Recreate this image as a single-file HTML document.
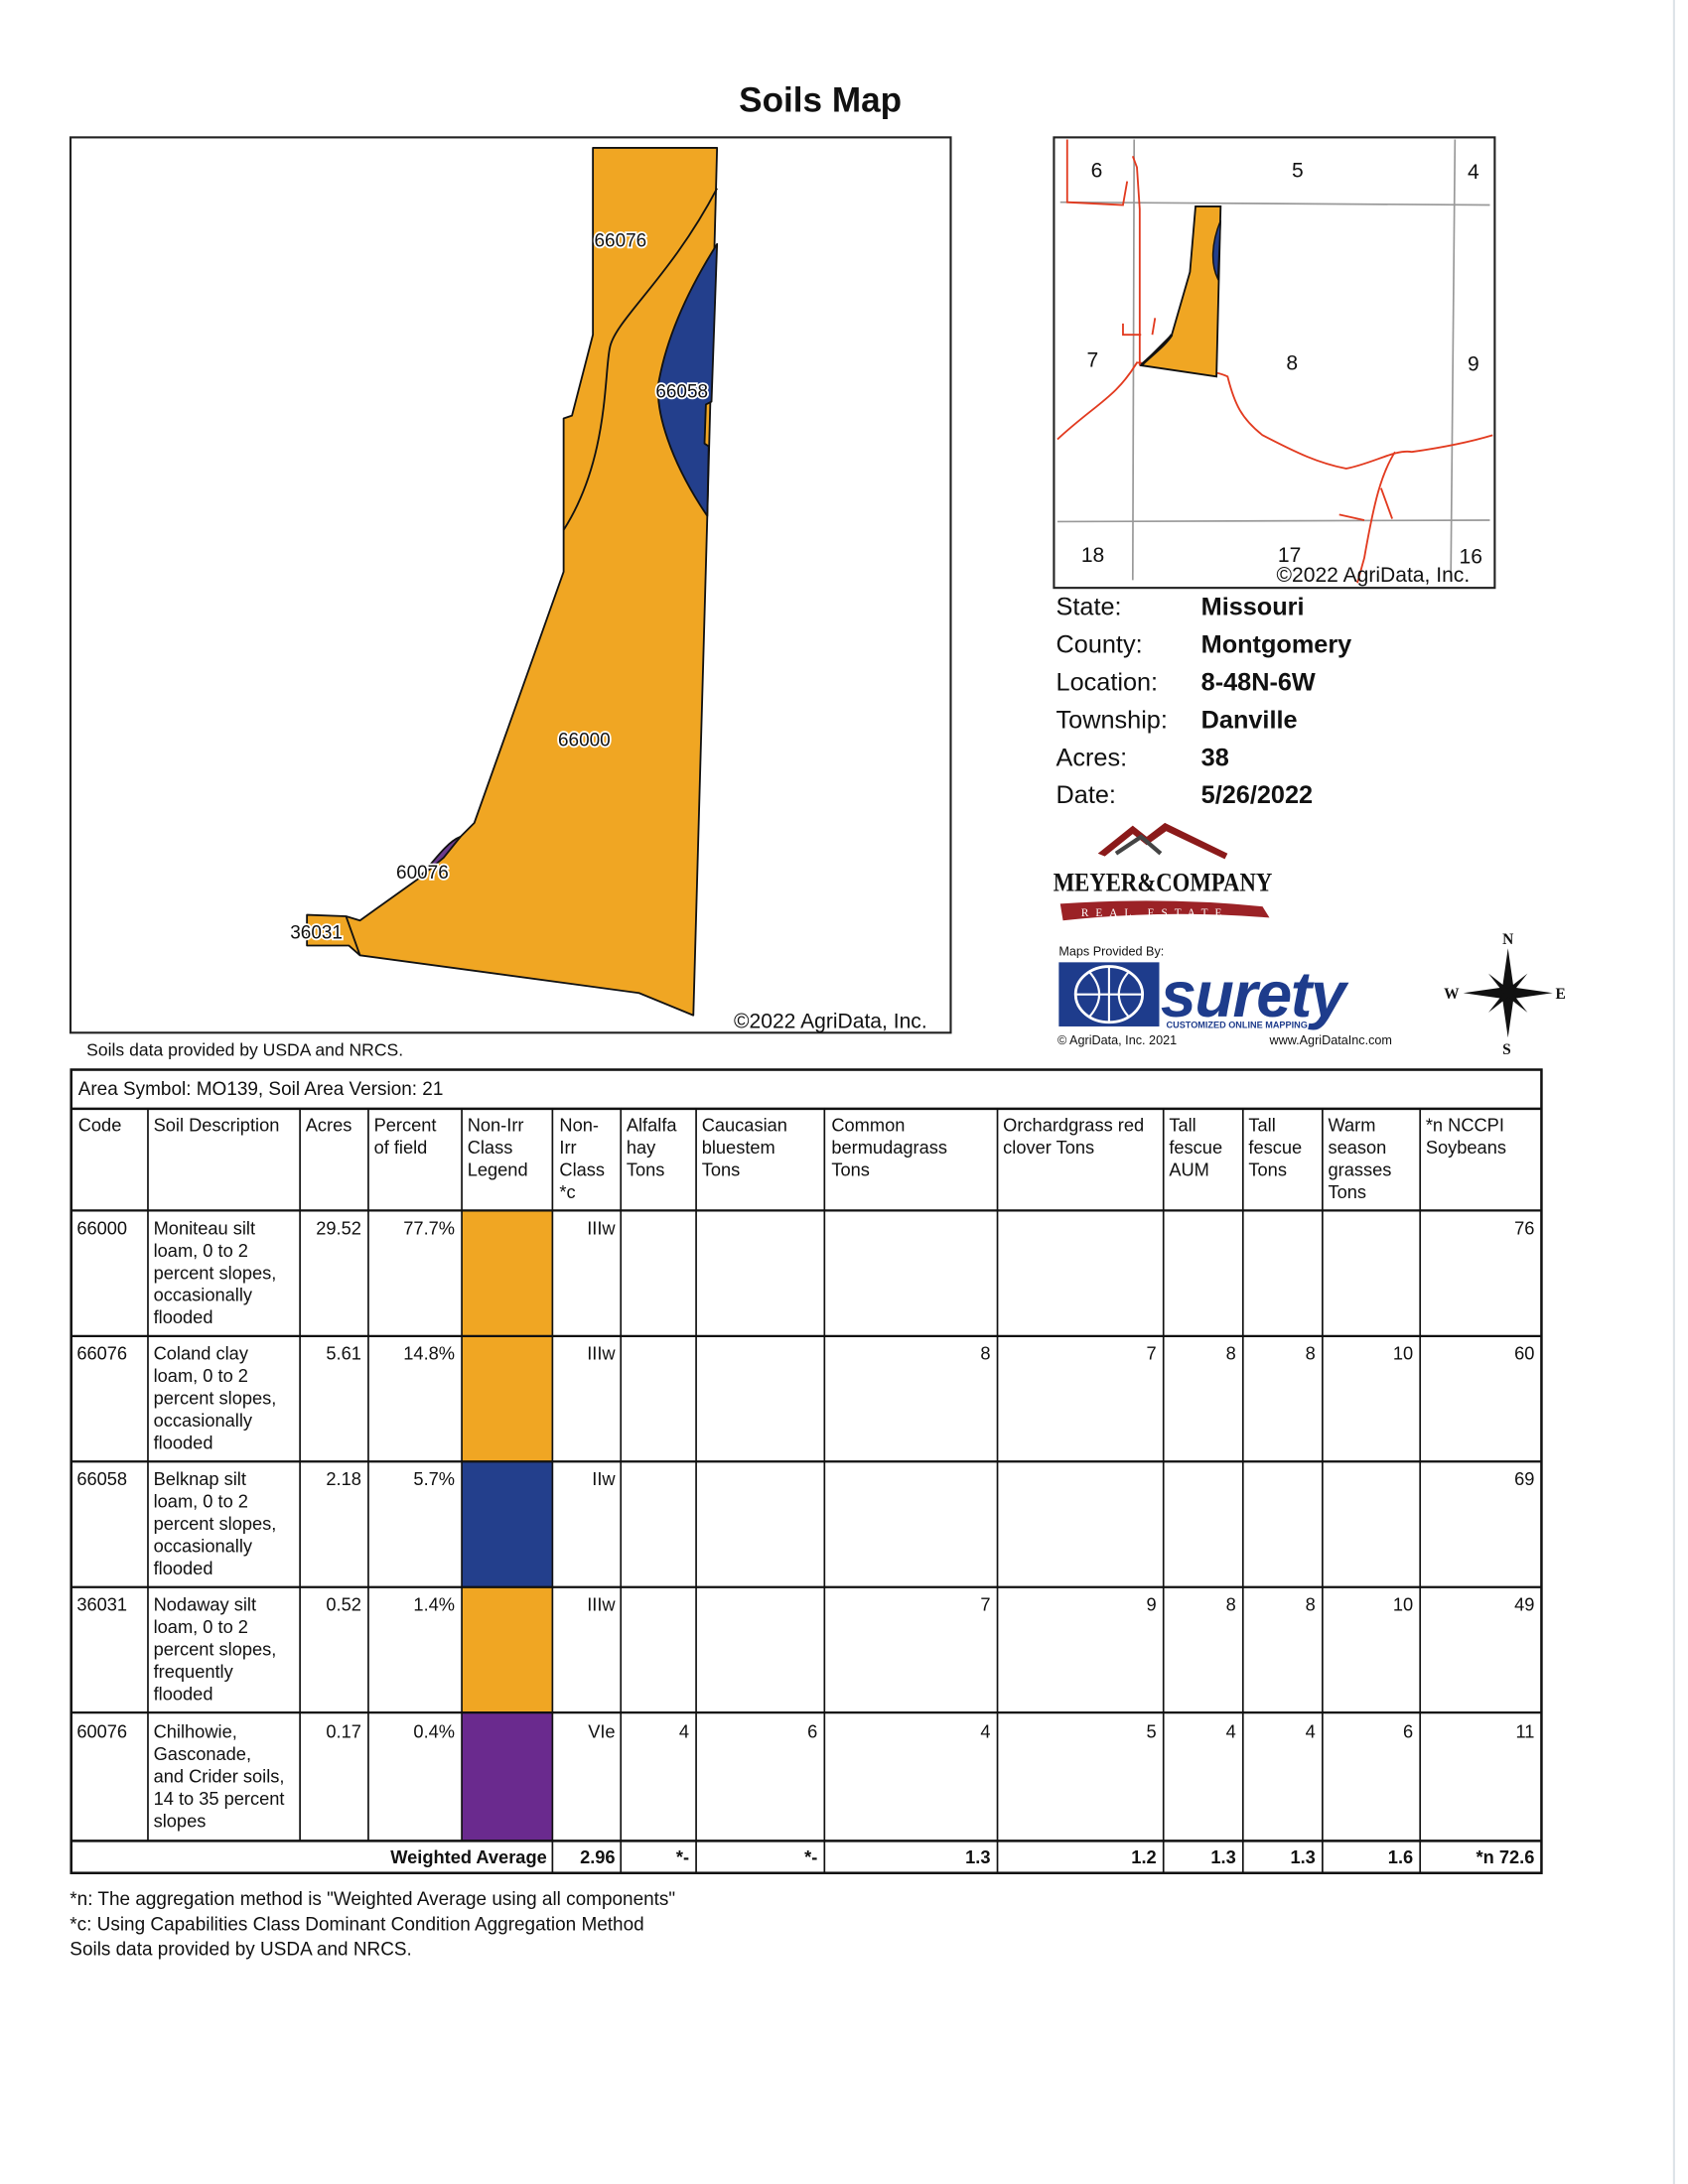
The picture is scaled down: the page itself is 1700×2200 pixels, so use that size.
<!DOCTYPE html>
<html><head><meta charset="utf-8"><style>
html,body{margin:0;padding:0;background:#fff;}
svg{display:block;}
text{font-family:"Liberation Sans",sans-serif;fill:#111;}
</style></head><body>
<svg width="1700" height="2200" viewBox="0 0 1210 1566" xmlns="http://www.w3.org/2000/svg">
<rect width="1210" height="1566" fill="#fff"/>
<line x1="1200" y1="0" x2="1200" y2="1566" stroke="#dde3e8" stroke-width="1.5"/>
<text x="588" y="80" font-size="25" font-weight="bold" text-anchor="middle">Soils Map</text>

<rect x="50.5" y="98.5" width="631" height="642" fill="#fff" stroke="#222" stroke-width="1.5"/>
<g stroke="#111" stroke-width="1.3" stroke-linejoin="round">
<path d="M425,106 L514,106 L507,370 L497,728 L458,712 L258,685 L250,678 L220,678 L220,656 L248,657 L258,660 L300,630 L340,590 L404,410 L404,300 L410,298 L425,240 Z" fill="#F0A623"/>
<path d="M514,175 C495,205 478,240 472,275 C470,295 480,330 507,370 L508,320 L505,318 L506,290 L510,288 Z" fill="#233F8C"/>
<path d="M514,135 C480,200 440,230 437,250 C433,270 436,330 404,380" fill="none"/>
<path d="M300,630 C315,612 322,603 330,600 L318,615 Z" fill="#6B3A8C"/>
<path d="M248,657 L258,685" fill="none"/>
</g>
<g font-size="13.5" stroke="#fff" stroke-width="2.5" paint-order="stroke">
<text x="426" y="177">66076</text>
<text x="470" y="285">66058</text>
<text x="400" y="535">66000</text>
<text x="284" y="630">60076</text>
<text x="208" y="673">36031</text>
</g>
<text x="526" y="737" font-size="15">©2022 AgriData, Inc.</text>
<text x="62" y="757" font-size="12.5">Soils data provided by USDA and NRCS.</text>

<rect x="755.5" y="98.5" width="316" height="323" fill="#fff" stroke="#222" stroke-width="1.5"/>
<g stroke="#999" stroke-width="1.2" fill="none">
<path d="M760,145 L1068,147"/><path d="M758,374 L1068,373"/>
<path d="M813,100 L812,416"/><path d="M1043,100 L1040,416"/>
</g>
<g stroke="#E23A1F" stroke-width="1.3" fill="none">
<path d="M765,100 L765,145 L805,147 L808,130"/>
<path d="M812,112 L815,120 L817,150 L817,262"/>
<path d="M758,315 C785,290 800,285 815,260 C840,262 870,265 880,270 C885,290 890,300 905,312 C930,325 945,332 965,336 C985,332 1000,322 1012,324 C1040,320 1060,315 1070,312"/>
<path d="M1000,324 C990,340 985,360 978,400 L973,418"/>
<path d="M990,350 L998,372 M960,369 L978,373"/>
<path d="M805,232 L805,240 L818,240 M826,240 L828,228"/>
</g>
<path d="M857,148 L875,148 L872,270 L818,262 L840,240 L853,195 Z" fill="#F0A623" stroke="#111" stroke-width="1.3"/>
<path d="M875,158 C868,175 868,190 873,200 Z" fill="#233F8C" stroke="#111" stroke-width="1"/>
<path d="M818,262 C825,255 835,248 840,240" stroke="#111" stroke-width="2" fill="none"/>
<g font-size="15">
<text x="782" y="127">6</text><text x="926" y="127">5</text><text x="1052" y="128">4</text>
<text x="779" y="263">7</text><text x="922" y="265">8</text><text x="1052" y="266">9</text>
<text x="775" y="403">18</text><text x="916" y="403">17</text><text x="1046" y="404">16</text>
<text x="915" y="417">©2022 AgriData, Inc.</text>
</g>

<g font-size="18">
<text x="757" y="441">State:</text><text x="861" y="441" font-weight="bold">Missouri</text>
<text x="757" y="468">County:</text><text x="861" y="468" font-weight="bold">Montgomery</text>
<text x="757" y="495">Location:</text><text x="861" y="495" font-weight="bold">8-48N-6W</text>
<text x="757" y="522">Township:</text><text x="861" y="522" font-weight="bold">Danville</text>
<text x="757" y="549">Acres:</text><text x="861" y="549" font-weight="bold">38</text>
<text x="757" y="576">Date:</text><text x="861" y="576" font-weight="bold">5/26/2022</text>
</g>

<path d="M787,612 L812,592 L822,600 L835,590 L880,612 L878,616 L836,596 L822,606 L812,598 L792,614 Z" fill="#8B1A1A"/>
<path d="M800,612 L818,600 L832,612" fill="none" stroke="#444" stroke-width="3"/>
<text x="755" y="639" font-size="19" font-weight="bold" style="font-family:'Liberation Serif',serif" textLength="157" lengthAdjust="spacingAndGlyphs">MEYER&amp;COMPANY</text>
<path d="M760,648 Q835,643 905,650 L910,658 Q835,652 762,660 Z" fill="#9B2226"/>
<text x="775" y="657" font-size="8" style="fill:#fff;font-family:'Liberation Serif',serif" letter-spacing="5">REAL ESTATE</text>

<text x="759" y="685" font-size="9">Maps Provided By:</text>
<rect x="759" y="690" width="72" height="46" fill="#1E3C8C"/>
<ellipse cx="795" cy="713" rx="24" ry="20" fill="none" stroke="#fff" stroke-width="2"/>
<path d="M771,713 H819 M795,693 V733 M781,697 Q795,713 781,729 M809,697 Q795,713 809,729" stroke="#fff" stroke-width="1.5" fill="none"/>
<text x="832" y="729" font-size="46" font-weight="bold" font-style="italic" style="fill:#1E3C8C" letter-spacing="-1">surety</text>
<text x="836" y="737" font-size="6.5" font-weight="bold" style="fill:#1E3C8C">CUSTOMIZED ONLINE MAPPING</text>
<text x="758" y="749" font-size="9">© AgriData, Inc. 2021</text>
<text x="910" y="749" font-size="9">www.AgriDataInc.com</text>

<g transform="translate(1081,712)">
<path d="M0,-32 L4,-4 L0,0 L-4,-4 Z M0,32 L4,4 L0,0 L-4,4 Z M-32,0 L-4,-4 L0,0 L-4,4 Z M32,0 L4,-4 L0,0 L4,4 Z" fill="#111"/>
<path d="M-14,-14 L0,-3 L14,-14 L3,0 L14,14 L0,3 L-14,14 L-3,0 Z" fill="#111"/>
<text x="-4" y="-35" font-size="11" font-weight="bold" style="font-family:'Liberation Serif',serif">N</text>
<text x="-4" y="44" font-size="11" font-weight="bold" style="font-family:'Liberation Serif',serif">S</text>
<text x="-46" y="4" font-size="11" font-weight="bold" style="font-family:'Liberation Serif',serif">W</text>
<text x="34" y="4" font-size="11" font-weight="bold" style="font-family:'Liberation Serif',serif">E</text>
</g>

<g>
<rect x="331" y="868" width="65" height="90" fill="#F0A623"/>
<rect x="331" y="958" width="65" height="90" fill="#F0A623"/>
<rect x="331" y="1048" width="65" height="90" fill="#233F8C"/>
<rect x="331" y="1138" width="65" height="90" fill="#F0A623"/>
<rect x="331" y="1228" width="65" height="92" fill="#6A2A8E"/>
</g>
<g stroke="#111" stroke-width="1.2" fill="none">
<rect x="51" y="767" width="1054" height="576" stroke-width="1.8"/>
<line x1="51" y1="795" x2="1105" y2="795" stroke-width="1.8"/>
<line x1="51" y1="868" x2="1105" y2="868" stroke-width="1.6"/>
<line x1="51" y1="958" x2="1105" y2="958" stroke-width="1.6"/>
<line x1="51" y1="1048" x2="1105" y2="1048" stroke-width="1.6"/>
<line x1="51" y1="1138" x2="1105" y2="1138" stroke-width="1.6"/>
<line x1="51" y1="1228" x2="1105" y2="1228" stroke-width="1.6"/>
<line x1="51" y1="1320" x2="1105" y2="1320" stroke-width="1.8"/>
<path d="M106,795V1320 M215,795V1320 M264,795V1320 M331,795V1320"/>
<path d="M396,795V1343 M445,795V1343 M499,795V1343 M591,795V1343 M715,795V1343 M834,795V1343 M891,795V1343 M948,795V1343 M1018,795V1343"/>
</g>
<g font-size="13">
<text x="56" y="785" font-size="13.5">Area Symbol: MO139, Soil Area Version: 21</text>
<text x="56" y="811">Code</text>
<text x="110" y="811">Soil Description</text>
<text x="219" y="811">Acres</text>
<text x="268" y="811">Percent</text><text x="268" y="827">of field</text>
<text x="335" y="811">Non-Irr</text><text x="335" y="827">Class</text><text x="335" y="843">Legend</text>
<text x="401" y="811">Non-</text><text x="401" y="827">Irr</text><text x="401" y="843">Class</text><text x="401" y="859">*c</text>
<text x="449" y="811">Alfalfa</text><text x="449" y="827">hay</text><text x="449" y="843">Tons</text>
<text x="503" y="811">Caucasian</text><text x="503" y="827">bluestem</text><text x="503" y="843">Tons</text>
<text x="596" y="811">Common</text><text x="596" y="827">bermudagrass</text><text x="596" y="843">Tons</text>
<text x="719" y="811">Orchardgrass red</text><text x="719" y="827">clover Tons</text>
<text x="838" y="811">Tall</text><text x="838" y="827">fescue</text><text x="838" y="843">AUM</text>
<text x="895" y="811">Tall</text><text x="895" y="827">fescue</text><text x="895" y="843">Tons</text>
<text x="952" y="811">Warm</text><text x="952" y="827">season</text><text x="952" y="843">grasses</text><text x="952" y="859">Tons</text>
<text x="1022" y="811">*n NCCPI</text><text x="1022" y="827">Soybeans</text>

<text x="55" y="885">66000</text>
<text x="110" y="885">Moniteau silt</text><text x="110" y="901">loam, 0 to 2</text><text x="110" y="917">percent slopes,</text><text x="110" y="933">occasionally</text><text x="110" y="949">flooded</text>
<g text-anchor="end"><text x="259" y="885">29.52</text><text x="326" y="885">77.7%</text><text x="441" y="885">IIIw</text><text x="1100" y="885">76</text></g>

<text x="55" y="975">66076</text>
<text x="110" y="975">Coland clay</text><text x="110" y="991">loam, 0 to 2</text><text x="110" y="1007">percent slopes,</text><text x="110" y="1023">occasionally</text><text x="110" y="1039">flooded</text>
<g text-anchor="end"><text x="259" y="975">5.61</text><text x="326" y="975">14.8%</text><text x="441" y="975">IIIw</text><text x="710" y="975">8</text><text x="829" y="975">7</text><text x="886" y="975">8</text><text x="943" y="975">8</text><text x="1013" y="975">10</text><text x="1100" y="975">60</text></g>

<text x="55" y="1065">66058</text>
<text x="110" y="1065">Belknap silt</text><text x="110" y="1081">loam, 0 to 2</text><text x="110" y="1097">percent slopes,</text><text x="110" y="1113">occasionally</text><text x="110" y="1129">flooded</text>
<g text-anchor="end"><text x="259" y="1065">2.18</text><text x="326" y="1065">5.7%</text><text x="441" y="1065">IIw</text><text x="1100" y="1065">69</text></g>

<text x="55" y="1155">36031</text>
<text x="110" y="1155">Nodaway silt</text><text x="110" y="1171">loam, 0 to 2</text><text x="110" y="1187">percent slopes,</text><text x="110" y="1203">frequently</text><text x="110" y="1219">flooded</text>
<g text-anchor="end"><text x="259" y="1155">0.52</text><text x="326" y="1155">1.4%</text><text x="441" y="1155">IIIw</text><text x="710" y="1155">7</text><text x="829" y="1155">9</text><text x="886" y="1155">8</text><text x="943" y="1155">8</text><text x="1013" y="1155">10</text><text x="1100" y="1155">49</text></g>

<text x="55" y="1246">60076</text>
<text x="110" y="1246">Chilhowie,</text><text x="110" y="1262">Gasconade,</text><text x="110" y="1278">and Crider soils,</text><text x="110" y="1294">14 to 35 percent</text><text x="110" y="1310">slopes</text>
<g text-anchor="end"><text x="259" y="1246">0.17</text><text x="326" y="1246">0.4%</text><text x="441" y="1246">VIe</text><text x="494" y="1246">4</text><text x="586" y="1246">6</text><text x="710" y="1246">4</text><text x="829" y="1246">5</text><text x="886" y="1246">4</text><text x="943" y="1246">4</text><text x="1013" y="1246">6</text><text x="1100" y="1246">11</text></g>

<g text-anchor="end" font-weight="bold">
<text x="392" y="1336">Weighted Average</text><text x="441" y="1336">2.96</text><text x="494" y="1336">*-</text><text x="586" y="1336">*-</text><text x="710" y="1336">1.3</text><text x="829" y="1336">1.2</text><text x="886" y="1336">1.3</text><text x="943" y="1336">1.3</text><text x="1013" y="1336">1.6</text><text x="1100" y="1336">*n 72.6</text>
</g>
</g>
<g font-size="13.5">
<text x="50" y="1366">*n: The aggregation method is "Weighted Average using all components"</text>
<text x="50" y="1384">*c: Using Capabilities Class Dominant Condition Aggregation Method</text>
<text x="50" y="1402">Soils data provided by USDA and NRCS.</text>
</g>
</svg>
</body></html>
